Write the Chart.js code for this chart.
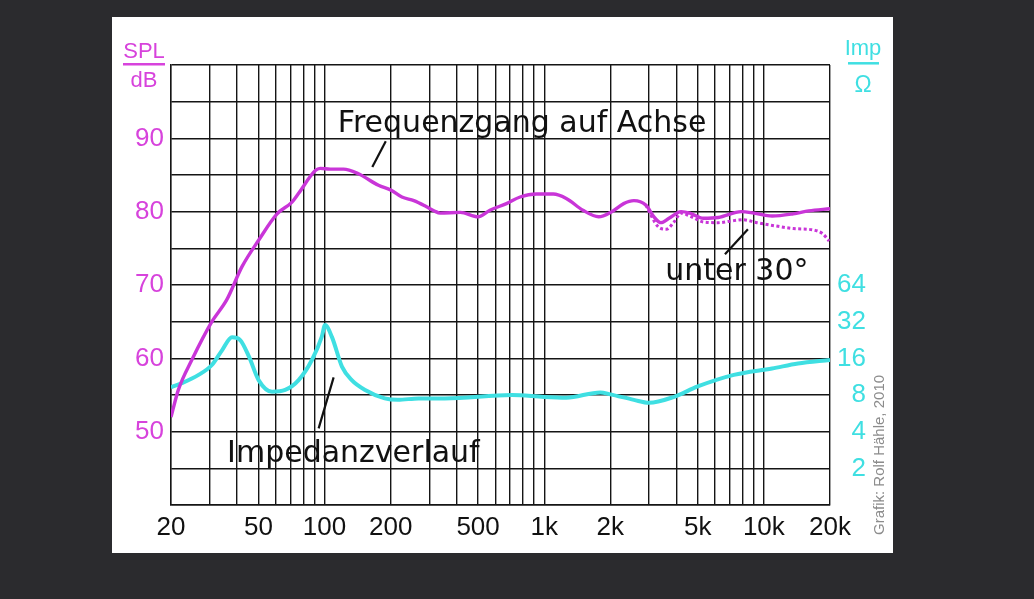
<!DOCTYPE html>
<html><head><meta charset="utf-8">
<script src="https://cdn.jsdelivr.net/npm/chart.js@4.4.1/dist/chart.umd.min.js"></script>
<style>
html,body{margin:0;padding:0;background:#2b2b2e;width:1034px;height:599px;overflow:hidden;}
#panel{position:absolute;left:112px;top:17px;width:781px;height:536px;background:#fff;}
#c{display:block;}
</style></head><body>
<div id="panel"><canvas id="c" width="781" height="536"></canvas></div>
<script>
// ---- data ----
const splFreq = [20,21.6,24.9,30.7,35.9,42.1,50.1,60.8,71.1,76.2,90.8,95.5,106,122,142,176,202,225,255,290,316,336,415,500,566,673,777,921,1100,1260,1500,1770,2030,2300,2560,2900,3160,3400,3700,4200,4600,5300,6200,7900,9000,10900,13600,16000,20000];
const splDb   = [52,55.7,59.8,65,68,72.5,76.1,79.7,81.3,82.5,85.6,85.9,85.8,85.8,85.2,83.6,82.9,82,81.5,80.7,80.1,79.8,79.9,79.3,80.2,81.1,82,82.4,82.4,81.8,80.2,79.3,80,81.1,81.5,80.9,79.3,78.5,79.1,80,79.8,79.1,79.2,80,79.8,79.4,79.7,80.1,80.4];
const offFreq = [2900,3300,3600,3900,4200,4600,5300,6200,7000,8000,9300,11600,13600,16800,18500,19800];
const offDb   = [80.9,77.95,77.6,78.6,79.8,79.4,78.6,78.5,78.7,78.9,78.5,78.0,77.7,77.5,77.0,76.0];
const impFreq = [20,22.4,26.7,30.7,34.2,37.9,41.3,45.3,50.1,57.7,66.2,76.2,87.6,97.2,100.5,108,120,133,153,188,216,268,353,713,1000,1260,1800,2000,2560,3000,3880,5000,7300,10900,14300,20000];
const impOhm  = [9.25,10,11.7,14.1,18.7,23.8,22.6,16.5,10.6,8.5,8.8,10.6,15.5,24.1,30,24,13.7,10.6,8.8,7.5,7.3,7.5,7.5,8,7.7,7.6,8.4,8.1,7.3,6.9,7.7,9.4,11.7,13.2,14.5,15.5];
const xGridFreqs = [20,30,40,50,60,70,80,90,100,200,300,400,500,600,700,800,900,1000,2000,3000,4000,5000,6000,7000,8000,9000,10000,20000];
const xLabelFreqs = [20,50,100,200,500,1000,2000,5000,10000,20000];
const xLabelTexts = ['20','50','100','200','500','1k','2k','5k','10k','20k'];
const splLabelValues = [50,60,70,80,90];
const impTickValues = [2,4,8,16,32,64];

// ---- styles ----
const MAG_LINE = '#c935d8', MAG_TEXT = '#d743dc', CYAN = '#3fdfe2', GRID = '#151515';
const TICK_FONT = {family:'Liberation Sans', size:26};

const zip = (xs, ys) => xs.map((x,i)=>({x, y: ys[i]}));

const overlay = {
  id:'overlay',
  afterDatasetsDraw(chart){
    const ctx = chart.ctx, xs = chart.scales.x, ys = chart.scales.y;
    const P = (f,d)=>[xs.getPixelForValue(f), ys.getPixelForValue(d)];
    ctx.save();
    ctx.fillStyle = '#111'; ctx.strokeStyle = '#111'; ctx.lineWidth = 2.2;
    ctx.font = '30px "DejaVu Sans"'; ctx.textBaseline = 'alphabetic'; ctx.textAlign = 'left';
    let p = P(115, 90.86); ctx.fillText('Frequenzgang auf Achse', p[0], p[1]);
    p = P(36.0, 45.86); ctx.fillText('Impedanzverlauf', p[0], p[1]);
    p = P(3554, 70.68); ctx.fillText('unter 30°', p[0], p[1]);
    const seg = (a,b)=>{ ctx.beginPath(); ctx.moveTo(a[0],a[1]); ctx.lineTo(b[0],b[1]); ctx.stroke(); };
    seg(P(165, 86.1), P(190, 89.6));
    seg(P(94, 50.45), P(110, 57.4));
    seg(P(6650, 74.2), P(8460, 77.6));
    ctx.restore();
  },
  afterDraw(chart){
    const ctx = chart.ctx, ca = chart.chartArea;
    ctx.save();
    ctx.font = '22px "Liberation Sans"'; ctx.textAlign = 'center'; ctx.textBaseline = 'alphabetic';
    ctx.fillStyle = MAG_TEXT; ctx.strokeStyle = MAG_TEXT; ctx.lineWidth = 2.5;
    const lx = ca.left - 27;
    ctx.fillText('SPL', lx, ca.top - 7);
    ctx.beginPath(); ctx.moveTo(lx-21, ca.top - 0.7); ctx.lineTo(lx+21, ca.top - 0.7); ctx.stroke();
    ctx.fillText('dB', lx, ca.top + 22);
    const rx = ca.right + 33;
    ctx.fillStyle = CYAN; ctx.strokeStyle = CYAN;
    ctx.fillText('Imp', rx, ca.top - 10);
    ctx.beginPath(); ctx.moveTo(rx-15, ca.top - 1.7); ctx.lineTo(rx+16, ca.top - 1.7); ctx.stroke();
    ctx.font = '23px "Liberation Sans"';
    ctx.fillText('Ω', rx, ca.top + 26.5);
    ctx.translate(ca.right + 50, ca.bottom + 30);
    ctx.rotate(-Math.PI/2);
    ctx.font = '15px "Liberation Sans"'; ctx.fillStyle = '#8c8c8c';
    ctx.textAlign = 'left'; ctx.textBaseline = 'middle';
    ctx.fillText('Grafik: Rolf Hähle, 2010', 0, 0);
    ctx.restore();
  }
};

new Chart(document.getElementById('c'), {
  type:'line',
  data:{
    datasets:[
      {label:'Frequenzgang auf Achse', data: zip(splFreq, splDb), yAxisID:'y', borderColor:MAG_LINE, borderWidth:3.4, cubicInterpolationMode:'monotone', order:1},
      {label:'unter 30°', data: zip(offFreq, offDb), yAxisID:'y', borderColor:MAG_LINE, borderWidth:3, borderDash:[3,2.5], cubicInterpolationMode:'monotone', order:2},
      {label:'Impedanzverlauf', data: zip(impFreq, impOhm), yAxisID:'y2', borderColor:CYAN, borderWidth:4, cubicInterpolationMode:'monotone', order:3}
    ]
  },
  options:{
    responsive:false, animation:false, devicePixelRatio:1,
    elements:{point:{radius:0}},
    plugins:{legend:{display:false}, tooltip:{enabled:false}},
    layout:{padding:{top:48, left:0, right:27, bottom:0}},
    scales:{
      x:{
        type:'logarithmic', position:'bottom', min:20, max:20000,
        afterBuildTicks: s => { s.ticks = xGridFreqs.map(v=>({value:v})); },
        afterFit: s => { s.height = 48; },
        ticks:{autoSkip:false, maxRotation:0, minRotation:0, padding:7, color:'#111', font:TICK_FONT,
          callback: v => { const i = xLabelFreqs.indexOf(v); return i >= 0 ? xLabelTexts[i] : ''; }},
        grid:{color:GRID, lineWidth:1.4, drawTicks:false},
        border:{color:GRID, width:1.4}
      },
      y:{
        type:'linear', position:'left', min:40, max:100,
        afterFit: s => { s.width = 59; },
        ticks:{stepSize:5, padding:7, color:MAG_TEXT, font:TICK_FONT,
          callback: v => splLabelValues.includes(v) ? String(v) : ''},
        grid:{color:GRID, lineWidth:1.4, drawTicks:false},
        border:{color:GRID, width:1.4}
      },
      y2:{
        type:'logarithmic', position:'right', min:1, max:4096,
        afterBuildTicks: s => { s.ticks = impTickValues.map(v=>({value:v})); },
        afterFit: s => { s.width = 36; },
        ticks:{padding:8, color:CYAN, font:TICK_FONT, crossAlign:'far', autoSkip:false,
          callback: v => String(v)},
        grid:{display:false, drawTicks:false},
        border:{display:false}
      }
    }
  },
  plugins:[overlay]
});
</script>
</body></html>
